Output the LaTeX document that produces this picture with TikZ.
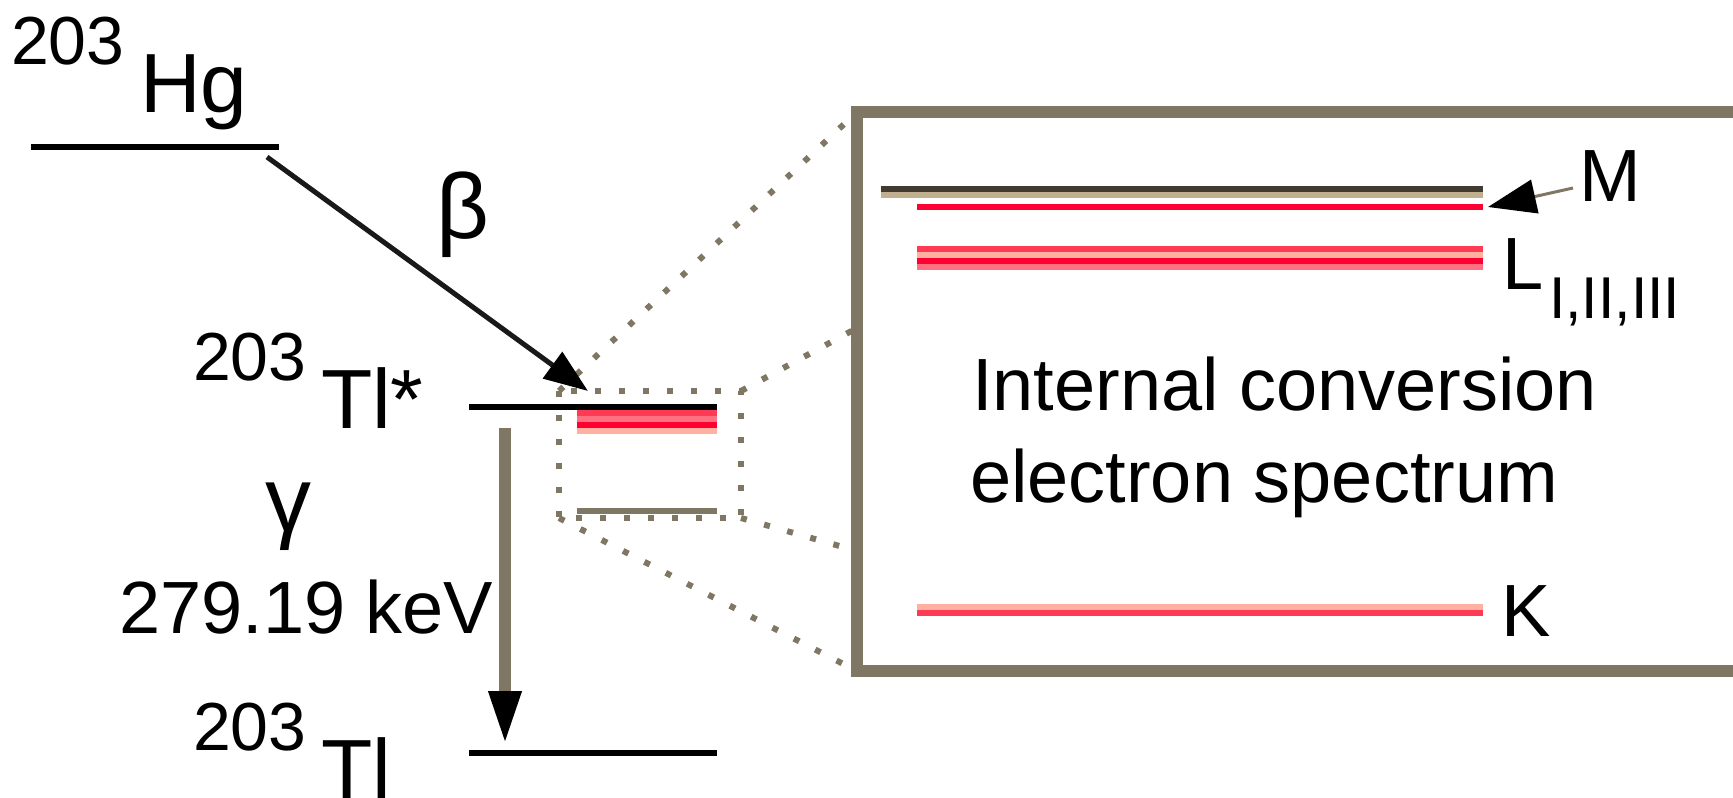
\documentclass[tikz,border=0pt]{standalone}
\usepackage{fontspec}
\setmainfont{Liberation Sans}
\usetikzlibrary{arrows.meta}
\definecolor{boxgray}{RGB}{127,118,99}
\definecolor{tanc}{RGB}{192,176,144}
\definecolor{darkline}{RGB}{64,58,48}
\definecolor{redA}{RGB}{255,58,85}
\definecolor{redB}{RGB}{255,0,51}
\definecolor{pinkA}{RGB}{255,176,160}
\definecolor{pinkB}{RGB}{255,112,128}
\newcommand\fsz[1]{\fontsize{#1}{#1}\selectfont}
\begin{document}
\begin{tikzpicture}[x=1pt,y=-1pt,
  txt/.style={inner sep=0pt,outer sep=0pt,anchor=base west,text=black},
  bigtxt/.style={txt,font=\fsz{84}},
  isotxt/.style={txt,font=\fsz{68}},
  midtxt/.style={txt,font=\fsz{74}},
  subtxt/.style={txt,font=\fsz{59}},
  dotline/.style={boxgray,line width=6pt,dash pattern=on 6pt off 18pt},
  boxline/.style={boxgray,line width=12pt},
]
\useasboundingbox (0,0) rectangle (1733,798);

% named points
\coordinate (sbTL) at (559,391);
\coordinate (sbTR) at (741,391);
\coordinate (sbBR) at (741,518);
\coordinate (sbBL) at (559,518);
\coordinate (bbTL) at (857,112);
\coordinate (bbL1) at (857,328);
\coordinate (bbL2) at (857,551);
\coordinate (bbBL) at (857,671);
\coordinate (bbTR) at (1745,112);
\coordinate (bbBR) at (1745,671);
\coordinate (betaS) at (267,157);
\coordinate (betaE) at (588,391);
\coordinate (gamS) at (505,428);
\coordinate (gamE) at (505,745);
\coordinate (mS) at (1573,188);
\coordinate (mE) at (1488,207);

% dotted zoom lines
\draw[dotline] (sbTL) rectangle (sbBR);
\draw[dotline] (sbTL) -- (bbTL);
\draw[dotline] (sbTR) -- (bbL1);
\draw[dotline] (sbBR) -- (bbL2);
\draw[dotline] (sbBL) -- (bbBL);

% big box
\draw[boxline] (bbTR) -- (bbTL) -- (bbBL) -- (bbBR);

% level lines
\fill[black] (31,144) rectangle (279,150);
\fill[black] (469,404) rectangle (717,410);
\fill[black] (469,750) rectangle (717,756);
% small box bands
\fill[redA] (577,410) rectangle (717,416);
\fill[pinkB] (577,416) rectangle (717,422);
\fill[redB] (577,422) rectangle (717,428);
\fill[pinkA] (577,428) rectangle (717,434);
\fill[boxgray] (577,508) rectangle (717,514);
% spectrum lines
\fill[darkline] (881,186) rectangle (1483,192);
\fill[tanc] (881,192) rectangle (1483,198);
\fill[redB] (917,204) rectangle (1483,210);
\fill[redA] (917,246) rectangle (1483,252);
\fill[pinkA] (917,252) rectangle (1483,258);
\fill[redB] (917,258) rectangle (1483,264);
\fill[pinkB] (917,264) rectangle (1483,270);
\fill[pinkA] (917,604) rectangle (1483,610);
\fill[redA] (917,610) rectangle (1483,616);

% arrows
\draw[black!90,line width=5pt,-{Triangle[length=44pt,width=32pt,black]}] (betaS) -- (betaE);
\draw[boxgray,line width=12pt,-{Triangle[length=54pt,width=30pt,black]}] (gamS) -- (gamE);
\draw[boxgray,line width=3pt,-{Triangle[length=48pt,width=34pt,black]}] (mS) -- (mE);

% texts
\node[isotxt] (hgA) at (11,64) {203};
\node[bigtxt] (hg) at (140,112) {Hg};
\node[txt,font=\fsz{92}] (beta) at (436,238) {β};
\node[isotxt] (tlsA) at (193,380) {203};
\node[bigtxt] (tls) at (321,428) {Tl*};
\node[txt,font=\fsz{92}] (gam) at (265,531) {γ};
\node[midtxt] (en) at (119,633) {279.19 keV};
\node[isotxt] (tlA) at (193,750) {203};
\node[bigtxt] (tl) at (321,798) {Tl};
\node[midtxt] (mlab) at (1579,201) {M};
\node[midtxt] (llab) at (1502,289) {L};
\node[subtxt] (lsub) at (1549,318) {I,II,III};
\node[midtxt] (ic1) at (972,410) {Internal conversion};
\node[midtxt] (ic2) at (970,502) {electron spectrum};
\node[midtxt] (klab) at (1501,636) {K};
\end{tikzpicture}
\end{document}
